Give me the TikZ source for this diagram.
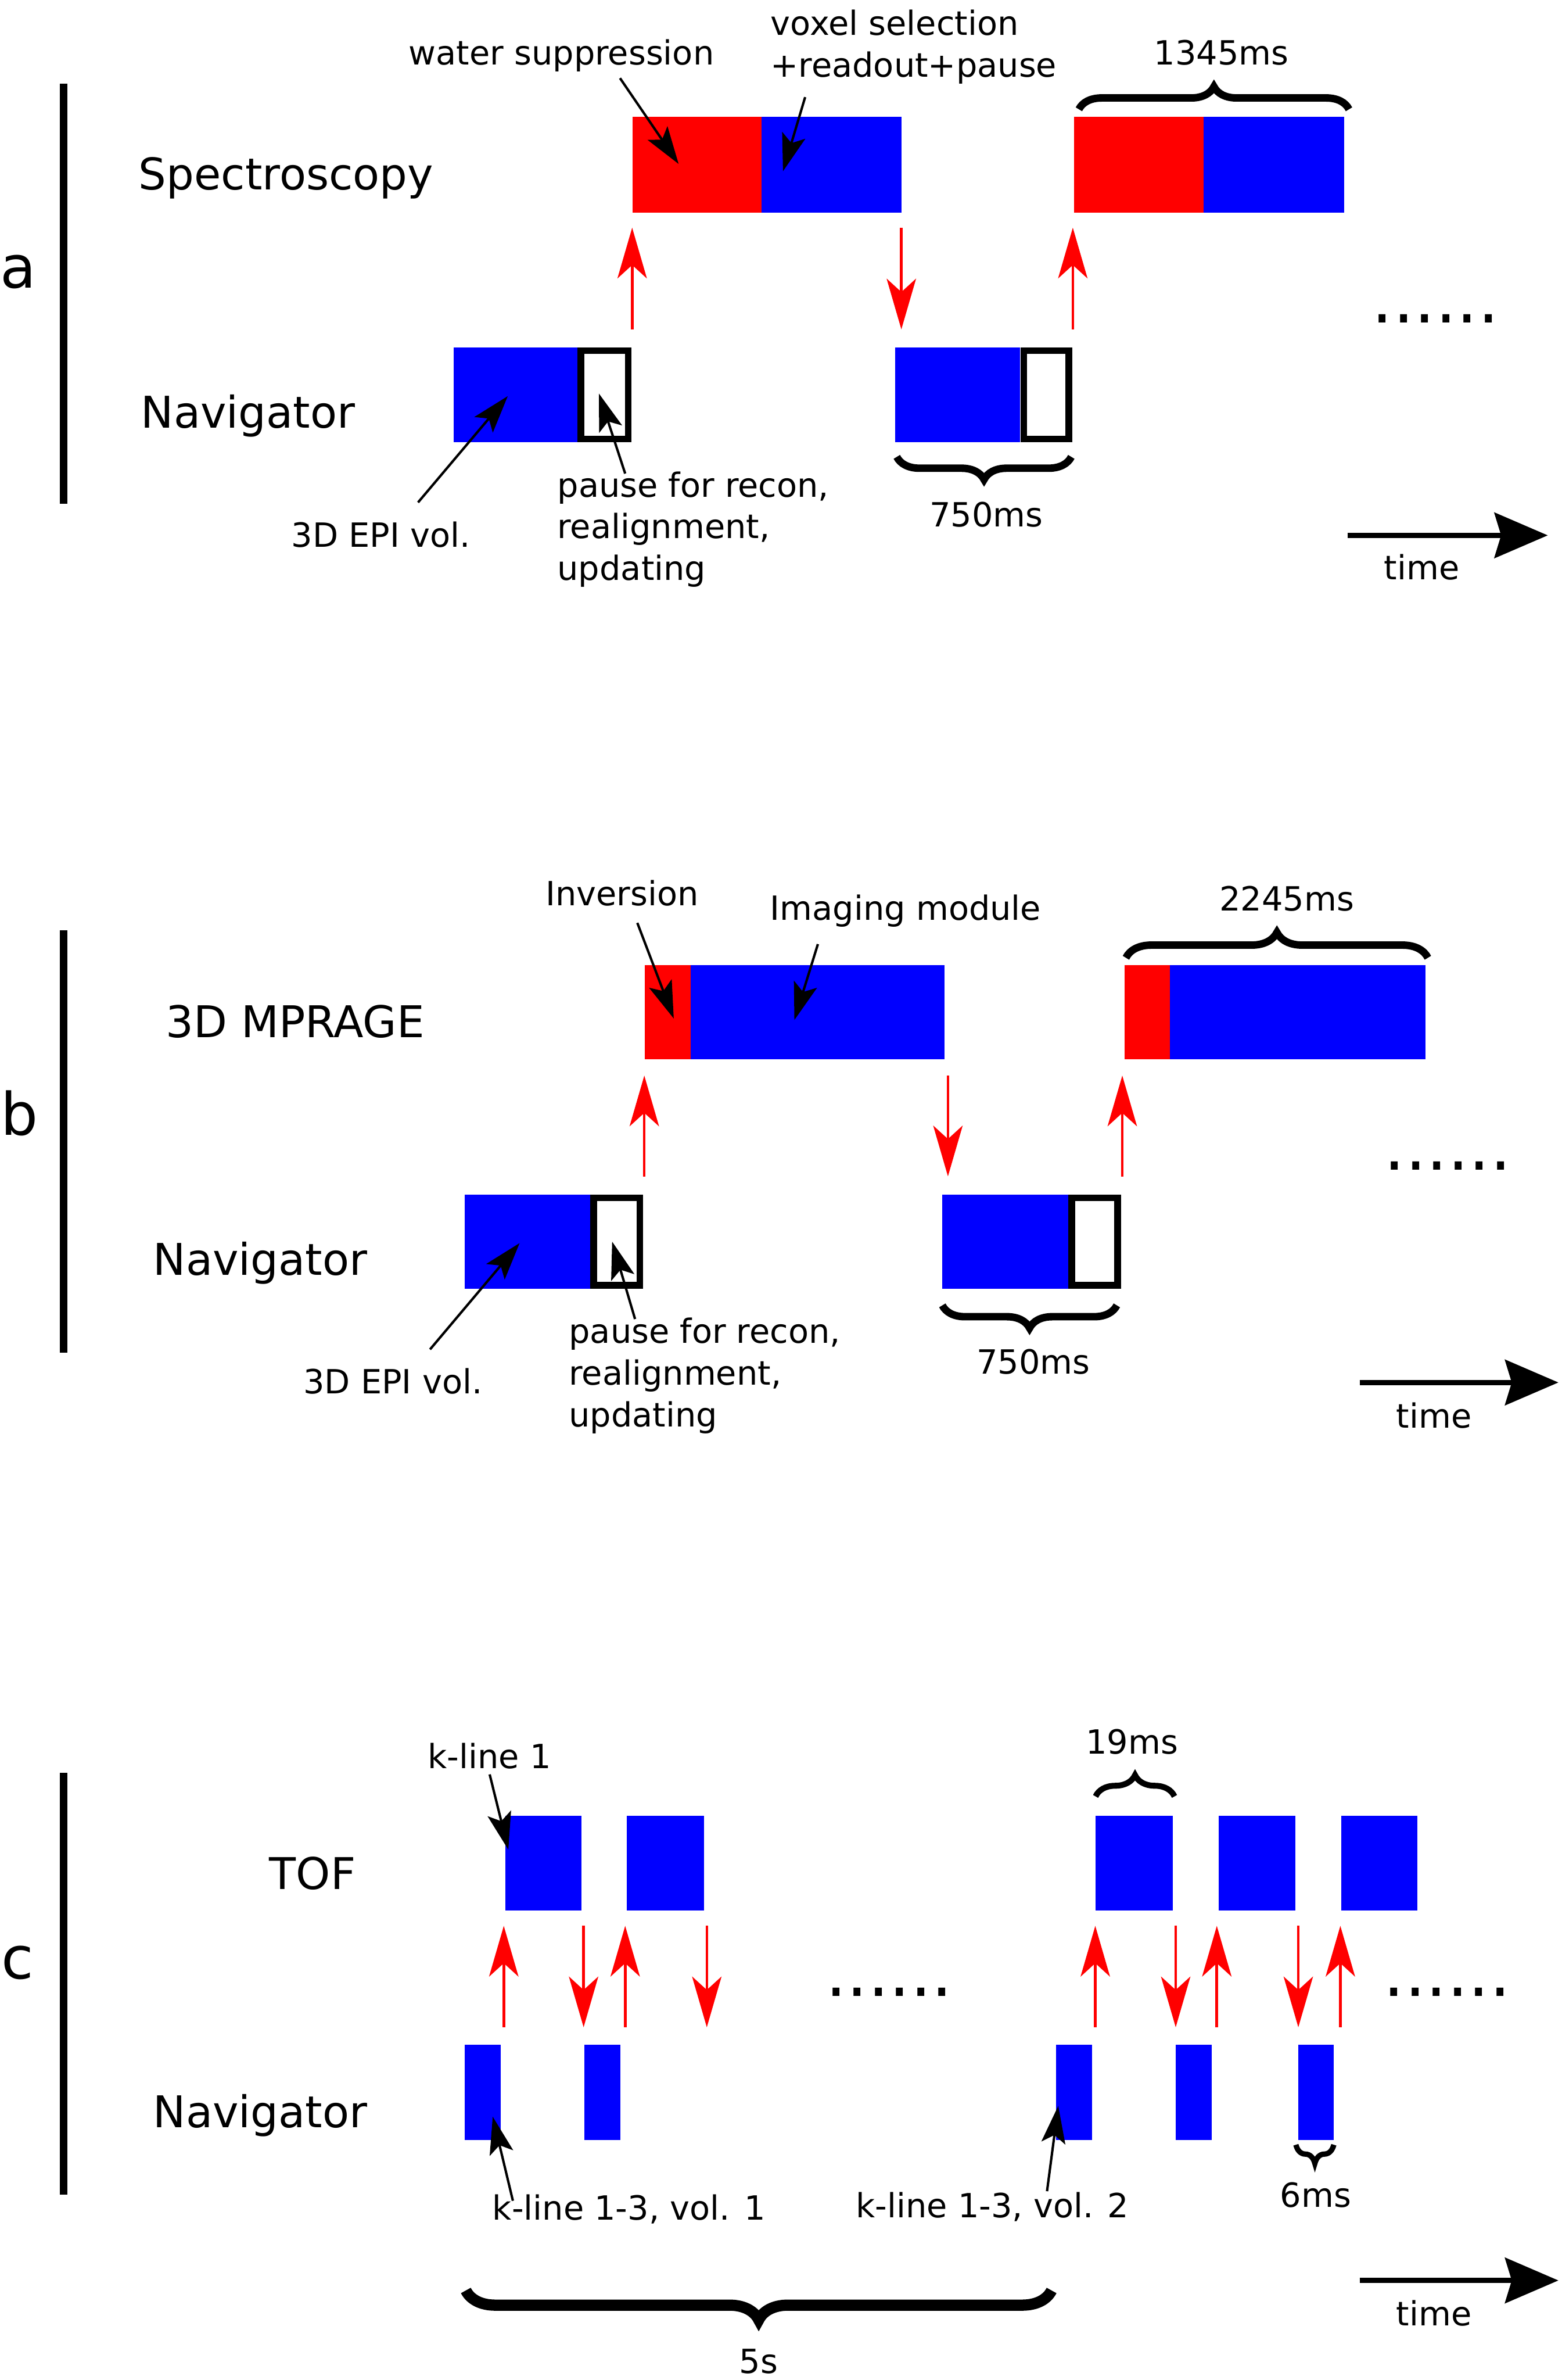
\documentclass[tikz,border=0pt]{standalone}
\usepackage{fontspec}
\setmainfont{DejaVu Sans}
\usepackage{tikz}
\usetikzlibrary{arrows.meta,decorations.pathreplacing}

\tikzset{
  lbl/.style={font=\fontsize{16.4}{20}\selectfont, inner sep=0pt, anchor=base},
  ann/.style={font=\fontsize{12.5}{15.6}\selectfont, inner sep=0pt, anchor=base},
  note/.style={font=\fontsize{12.5}{15.6}\selectfont, inner sep=0pt, align=left, anchor=north west},
  panel/.style={font=\fontsize{22}{26}\selectfont, inner sep=0pt, anchor=base},
  more/.style={font=\fontsize{25}{30}\selectfont, inner sep=0pt, anchor=base},
  sig/.style={red, line width=1pt, -{Stealth[length=19pt,width=11pt,inset=5pt]}},
  pointer/.style={line width=0.9pt, -{Stealth[length=14pt,width=9pt,inset=3pt]}},
  timeline/.style={line width=1.9pt, -{Stealth[length=20pt,width=17pt,inset=2.5pt]}},
  pausebox/.style={draw=black, line width=2.5pt, fill=white},
  bar/.style={line width=2.8pt},
  brc/.style={decorate, decoration={brace, amplitude=#1}, line width=2.8pt},
}

\begin{document}
\begin{tikzpicture}[x=0.02cm, y=-0.02cm]
  \useasboundingbox (0,0) rectangle (1029,1568);

  % ---------------- panel a: spectroscopy
  \draw[bar] (42,55) -- (42,332);
  \node[panel] (pa) at (12,189.5) {a};
  \node[lbl] (specA) at (188.5,125) {Spectroscopy};
  \node[lbl] (navA) at (163.5,282) {Navigator};
  % blocks
  \fill[red] (417,77) rectangle (502,140);
  \fill[blue] (502,77) rectangle (594,140);
  \fill[red] (708,77) rectangle (793,140);
  \fill[blue] (793,77) rectangle (886,140);
  \fill[blue] (299,229) rectangle (381,291.4);
  \draw[pausebox] (382.8,231) rectangle (414.1,289.2);
  \fill[blue] (590,229) rectangle (672.4,291.4);
  \draw[pausebox] (674.6,231) rectangle (704.3,289.2);
  % triggers
  \foreach \x in {416.6,707} \draw[sig] (\x,217) -- (\x,150);
  \draw[sig] (594,150) -- (594,217);
  \node[more] (dotsA) at (946,212.5) {......};
  % labels
  \node[ann] (ws) at (370,42.7) {water suppression};
  \node[note] (vox) at (507.5,6.3) {voxel selection\\+readout+pause};
  \node[ann] (epiA) at (251,360.6) {3D EPI vol.};
  \node[note] (pauseA) at (367,310.3) {pause for recon,\\realignment,\\updating};
  \coordinate (wsS) at (408.6,51.5);   \coordinate (wsT) at (447.2,108);
  \coordinate (voxS) at (530.6,64);    \coordinate (voxT) at (516,112.8);
  \coordinate (epiAS) at (275.5,331);  \coordinate (epiAT) at (334.6,261);
  \coordinate (pauseAS) at (412,312);  \coordinate (pauseAT) at (394.7,259.3);
  \draw[pointer] (wsS) -- (wsT);
  \draw[pointer] (voxS) -- (voxT);
  \draw[pointer] (epiAS) -- (epiAT);
  \draw[pointer] (pauseAS) -- (pauseAT);
  % durations
  \draw[brc=8.5pt] (711,72) -- (889,72);
  \node[ann] (d1345) at (805,42.7) {1345ms};
  \draw[brc=8.5pt, decoration={mirror}] (591,301) -- (706,301);
  \node[ann] (d750a) at (650,347) {750ms};
  % time
  \draw[timeline] (888,352.7) -- (1020,352.7);
  \node[ann] (timeA) at (937,382) {time};

  % ---------------- panel b: MPRAGE
  \draw[bar] (42,613) -- (42,891);
  \node[panel] (pb) at (13,748) {b};
  \node[lbl] (mprage) at (194.5,683.6) {3D MPRAGE};
  \node[lbl] (navB) at (171.5,840) {Navigator};
  % blocks
  \fill[red] (425,636) rectangle (455,698);
  \fill[blue] (455,636) rectangle (622.5,698);
  \fill[red] (741,636) rectangle (771,698);
  \fill[blue] (771,636) rectangle (939.4,698);
  \fill[blue] (306.4,787) rectangle (389,849);
  \draw[pausebox] (391.2,789.2) rectangle (421.6,846.8);
  \fill[blue] (621,787) rectangle (704,849);
  \draw[pausebox] (706.2,789.2) rectangle (736.5,846.8);
  % triggers
  \foreach \x in {424.6,739.6} \draw[sig] (\x,775) -- (\x,708.6);
  \draw[sig] (624.7,708.6) -- (624.7,775);
  \node[more] (dotsB) at (954,770.6) {......};
  % labels
  \node[ann] (inv) at (410,596.6) {Inversion};
  \node[ann] (img) at (596.8,606.3) {Imaging module};
  \node[ann] (epiB) at (258.9,918) {3D EPI vol.};
  \node[note] (pauseB) at (374.6,868) {pause for recon,\\realignment,\\updating};
  \coordinate (invS) at (420,608);     \coordinate (invT) at (444,671);
  \coordinate (imgS) at (539,622);     \coordinate (imgT) at (523.5,672);
  \coordinate (epiBS) at (283.4,889);  \coordinate (epiBT) at (342.4,819);
  \coordinate (pauseBS) at (418.5,869);\coordinate (pauseBT) at (403.4,818);
  \draw[pointer] (invS) -- (invT);
  \draw[pointer] (imgS) -- (imgT);
  \draw[pointer] (epiBS) -- (epiBT);
  \draw[pointer] (pauseBS) -- (pauseBT);
  % durations
  \draw[brc=9.5pt] (742,631) -- (941,631);
  \node[ann] (d2245) at (848,600) {2245ms};
  \draw[brc=8.5pt, decoration={mirror}] (621,860) -- (736,860);
  \node[ann] (d750b) at (681,905) {750ms};
  % time
  \draw[timeline] (896,910.8) -- (1027,910.8);
  \node[ann] (timeB) at (945,940.6) {time};

  % ---------------- panel c: TOF
  \draw[bar] (42,1168) -- (42,1446);
  \node[panel] (pc) at (11.5,1303.6) {c};
  \node[lbl] (tof) at (206,1244.6) {TOF};
  \node[lbl] (navC) at (171.5,1401.6) {Navigator};
  % k-lines
  \foreach \xa/\xb in {333.2/383, 413/463.8, 722/772.8, 803/853.5, 884/934}
    \fill[blue] (\xa,1196.4) rectangle (\xb,1258.6);
  \foreach \xa/\xb in {306.4/330, 385/408.7, 696/719.6, 774.7/798.4, 855.4/879}
    \fill[blue] (\xa,1347) rectangle (\xb,1410);
  % triggers
  \foreach \x in {332,412,721.8,801.9,883.3} \draw[sig] (\x,1335.6) -- (\x,1268.8);
  \foreach \x in {384.6,465.8,774.8,855.6} \draw[sig] (\x,1268.8) -- (\x,1335.6);
  \node[more] (dotsC1) at (586,1315) {......};
  \node[more] (dotsC2) at (953.7,1315) {......};
  % labels
  \node[ann] (kl1) at (322.5,1165) {k-line 1};
  \node[ann] (vol1) at (414.5,1462.6) {k-line 1-3, vol. 1};
  \node[ann] (vol2) at (654,1461) {k-line 1-3, vol. 2};
  \coordinate (kl1S) at (322.7,1169);  \coordinate (kl1T) at (335,1218.6);
  \coordinate (vol1S) at (338,1449.9); \coordinate (vol1T) at (324.7,1394.5);
  \coordinate (vol2S) at (690,1443.6); \coordinate (vol2T) at (697.4,1387.4);
  \draw[pointer] (kl1S) -- (kl1T);
  \draw[pointer] (vol1S) -- (vol1T);
  \draw[pointer] (vol2S) -- (vol2T);
  % durations
  \draw[brc=8pt, line width=2.2pt] (722,1183.5) -- (774,1183.5);
  \node[ann] (d19) at (746,1155.4) {19ms};
  \draw[brc=7pt, line width=2pt, decoration={mirror}] (854,1413) -- (879,1413);
  \node[ann] (d6) at (867,1454) {6ms};
  \draw[brc=11pt, line width=4.2pt, decoration={mirror}] (307,1509) -- (693,1509);
  \node[ann] (d5s) at (500,1563.5) {5s};
  % time
  \draw[timeline] (896,1502.4) -- (1027,1502.4);
  \node[ann] (timeC) at (945,1532) {time};
\end{tikzpicture}
\end{document}
